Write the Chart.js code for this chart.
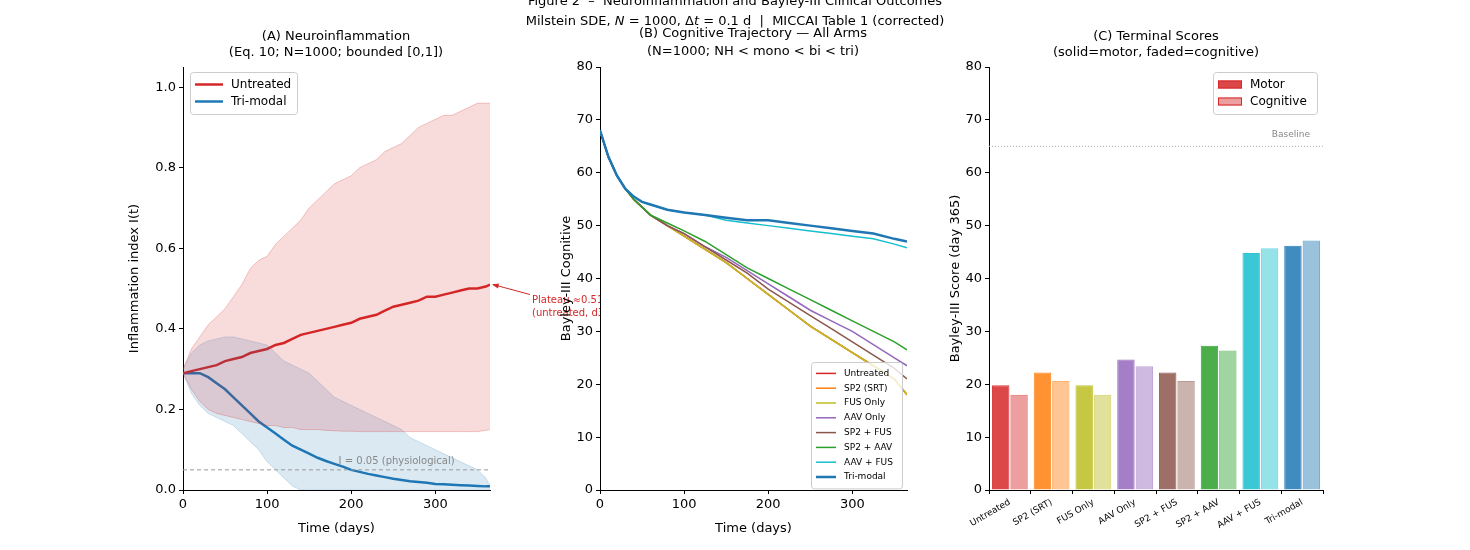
<!DOCTYPE html>
<html><head><meta charset="utf-8">
<script src="https://cdn.jsdelivr.net/npm/chart.js@4/dist/chart.umd.min.js"></script>
<style>
body{margin:0;width:1470px;height:550px;background:#fff;position:relative;overflow:hidden;font-family:"DejaVu Sans",sans-serif}
canvas{position:absolute}
#t1{position:absolute;top:-9px;left:0;width:1470px;text-align:center;font-size:13px;line-height:20px;color:#000;z-index:5}
</style></head><body>
<div id="t1">Figure 2 &nbsp;–&nbsp; Neuroinflammation and Bayley-III Clinical Outcomes<br>Milstein SDE, <i>N</i> = 1000, Δ<i>t</i> = 0.1 d &nbsp;|&nbsp; MICCAI Table 1 (corrected)</div>
<canvas id="cA" style="left:0;top:0;width:620px;height:550px"></canvas>
<canvas id="cC" style="left:900px;top:0;width:570px;height:550px"></canvas>
<canvas id="cB" style="left:520px;top:0;width:420px;height:550px"></canvas>
<script>
const days = [0,10,20,30,40,50,60,70,80,90,100,110,120,130,140,150,160,170,180,190,200,210,220,230,240,250,260,270,280,290,300,310,320,330,340,350,360,365];
const untreatedMean = [0.29,0.295,0.30,0.305,0.31,0.32,0.325,0.33,0.34,0.345,0.35,0.36,0.365,0.375,0.385,0.39,0.395,0.40,0.405,0.41,0.415,0.425,0.43,0.435,0.445,0.455,0.46,0.465,0.47,0.48,0.48,0.485,0.49,0.495,0.50,0.50,0.505,0.51];
const untreatedHi = [0.30,0.35,0.38,0.41,0.43,0.45,0.48,0.51,0.55,0.57,0.58,0.61,0.63,0.65,0.67,0.70,0.72,0.74,0.76,0.77,0.78,0.80,0.81,0.82,0.84,0.85,0.86,0.88,0.90,0.91,0.92,0.93,0.93,0.94,0.95,0.96,0.96,0.96];
const untreatedLo = [0.29,0.25,0.22,0.20,0.19,0.185,0.18,0.175,0.17,0.165,0.16,0.16,0.155,0.155,0.15,0.15,0.15,0.148,0.147,0.146,0.146,0.145,0.145,0.145,0.145,0.145,0.145,0.145,0.145,0.145,0.145,0.145,0.145,0.145,0.145,0.145,0.148,0.15];
const trimodalMean = [0.29,0.29,0.29,0.28,0.265,0.25,0.23,0.21,0.19,0.17,0.155,0.14,0.125,0.11,0.10,0.09,0.08,0.072,0.065,0.058,0.05,0.045,0.04,0.036,0.032,0.028,0.025,0.022,0.02,0.018,0.015,0.014,0.013,0.012,0.011,0.01,0.009,0.009];
const trimodalHi = [0.30,0.34,0.36,0.37,0.375,0.38,0.38,0.375,0.37,0.365,0.36,0.34,0.32,0.31,0.30,0.29,0.27,0.25,0.23,0.22,0.21,0.20,0.19,0.18,0.17,0.16,0.15,0.13,0.12,0.11,0.10,0.09,0.08,0.07,0.06,0.05,0.03,0.01];
const trimodalLo = [0.29,0.24,0.21,0.19,0.18,0.17,0.16,0.14,0.12,0.10,0.07,0.05,0.03,0.01,0.0,0.0,0.0,0.0,0.0,0.0,0.0,0.0,0.0,0.0,0.0,0.0,0.0,0.0,0.0,0.0,0.0,0.0,0.0,0.0,0.0,0.0,0.0,0.0];

const cogDays = [0,10,20,30,40,50,60,80,100,125,150,175,200,225,250,275,300,325,350,365];
const cogTrimodal = [68,63,59.5,57,55.5,54.5,54,53,52.5,52,51.5,51,51,50.5,50,49.5,49,48.5,47.5,47];
const cogAAVFUS   = [68,63,59.5,57,55.5,54.5,54,53,52.5,52,51,50.5,50,49.5,49,48.5,48,47.5,46.5,45.8];
const cogSP2AAV   = [68,63,59.5,57,55,53.5,52,50.5,49,47,44.5,42,40,38,36,34,32,30,28,26.5];
const cogAAV      = [68,63,59.5,57,55,53.5,52,50,48.5,46,44,41.5,39,36.5,34,32,30,27.5,25,23.5];
const cogSP2FUS   = [68,63,59.5,57,55,53.5,52,50,48.5,46,43.5,41,38,35.5,33,30.5,28,25.5,23,21];
const cogFUS      = [68,63,59.5,57,55,53.5,52,50,48,45.5,43,40,37,34,31,28.5,26,23.5,21,18];
const cogSP2      = cogFUS.slice();
const cogUntreated = cogFUS.slice();

const arms = ["Untreated","SP2 (SRT)","FUS Only","AAV Only","SP2 + FUS","SP2 + AAV","AAV + FUS","Tri-modal"];
const motorScores = [19.8,22.2,19.8,24.7,22.2,27.3,44.8,46.2];
const cognitiveScores = [18.0,20.6,18.0,23.4,20.6,26.4,45.7,47.2];
const baselineScore = 65;

const colors = ["#d62728","#ff7f0e","#bcbd22","#9467bd","#8c564b","#2ca02c","#17becf","#1f77b4"];
function rgba(h,a){const n=parseInt(h.slice(1),16);return `rgba(${n>>16},${(n>>8)&255},${n&255},${a})`;}
Chart.defaults.font.family="DejaVu Sans";
Chart.defaults.color="#000";
Chart.defaults.animation=false;
Chart.defaults.devicePixelRatio=1;
const axisCommon={grid:{display:true,drawOnChartArea:false,tickLength:4,color:"#000"},border:{color:"#000"},ticks:{font:{size:13},color:"#000"}};
const xy=(xs,ys)=>xs.map((x,i)=>({x,y:ys[i]}));
const fixW=w=>(s=>{s.width=w;});
const fixH=h=>(s=>{s.height=h;});
const dayTicks=s=>{s.ticks=[0,100,200,300].map(v=>({value:v}));};

function titles(lines,cx,ys){return{id:"ttl",afterDraw(c){const ctx=c.ctx;ctx.save();ctx.fillStyle="#000";ctx.font="13px DejaVu Sans";ctx.textAlign="center";ctx.textBaseline="middle";lines.forEach((t,i)=>ctx.fillText(t,cx,ys[i]));ctx.restore();}};}
function legend(items,x0,y0,w,rowH,fs,kind){return{id:"lg",afterDraw(c){const ctx=c.ctx;ctx.save();
 const h=items.length*rowH+8;ctx.fillStyle="rgba(255,255,255,0.8)";ctx.strokeStyle="#ccc";ctx.lineWidth=1;
 ctx.beginPath();ctx.roundRect(x0+0.5,y0+0.5,w,h,3);ctx.fill();ctx.stroke();
 ctx.font=fs+"px DejaVu Sans";ctx.textBaseline="middle";ctx.textAlign="left";
 items.forEach((it,i)=>{const y=y0+4+rowH*(i+0.5);
  if(kind==="line"){ctx.strokeStyle=it.c;ctx.lineWidth=it.w;ctx.beginPath();ctx.moveTo(x0+5,y);ctx.lineTo(x0+5+it.len,y);ctx.stroke();}
  else{ctx.fillStyle=it.f;ctx.strokeStyle=it.c;ctx.lineWidth=1;ctx.fillRect(x0+5,y-4,24,8);ctx.strokeRect(x0+5.5,y-3.5,23,7);}
  ctx.fillStyle="#000";ctx.fillText(it.t,x0+(kind==="line"?it.len+13:37),y);});
 ctx.restore();}};}

function annotA(){return{id:"annA",afterDatasetsDraw(c){
 const x=c.scales.x,y=c.scales.y,ctx=c.ctx;ctx.save();
 ctx.strokeStyle="#999";ctx.setLineDash([4,3]);ctx.lineWidth=1;
 ctx.beginPath();ctx.moveTo(c.chartArea.left,y.getPixelForValue(0.05));ctx.lineTo(c.chartArea.right,y.getPixelForValue(0.05));ctx.stroke();
 ctx.setLineDash([]);ctx.fillStyle="#888";ctx.font="10px DejaVu Sans";ctx.textAlign="left";
 ctx.fillText("I = 0.05 (physiological)",x.getPixelForValue(185),y.getPixelForValue(0.065));
 const ax=x.getPixelForValue(365),ay=y.getPixelForValue(0.51);
 ctx.strokeStyle="#d62728";ctx.fillStyle="#d62728";ctx.lineWidth=1;
 ctx.beginPath();ctx.moveTo(ax+40,ay+10);ctx.lineTo(ax+3,ay);ctx.stroke();
 ctx.beginPath();ctx.moveTo(ax+2,ay);ctx.lineTo(ax+9,ay-1);ctx.lineTo(ax+8,ay+4);ctx.fill();
 ctx.font="10px DejaVu Sans";ctx.fillText("Plateau ≈0.51",ax+42,ay+18);ctx.fillText("(untreated, d365)",ax+42,ay+31);
 ctx.restore();}};}
new Chart(document.getElementById("cA"),{type:"line",data:{datasets:[
 {label:"uhi",data:xy(days,untreatedHi),borderColor:rgba("#d62728",0.25),borderWidth:1,backgroundColor:rgba("#d62728",0.16),fill:"+1",pointRadius:0},
 {label:"ulo",data:xy(days,untreatedLo),borderColor:rgba("#d62728",0.25),borderWidth:1,pointRadius:0,fill:false},
 {label:"thi",data:xy(days,trimodalHi),borderColor:rgba("#1f77b4",0.2),borderWidth:1,backgroundColor:rgba("#1f77b4",0.16),fill:"+1",pointRadius:0},
 {label:"tlo",data:xy(days,trimodalLo),borderColor:rgba("#1f77b4",0.2),borderWidth:1,pointRadius:0,fill:false},
 {label:"Untreated",data:xy(days,untreatedMean),borderColor:"#d62728",borderWidth:2.5,pointRadius:0},
 {label:"Tri-modal",data:xy(days,trimodalMean),borderColor:"#1f77b4",borderWidth:2.5,pointRadius:0}]},
 options:{responsive:false,layout:{padding:{left:123,right:130,top:67,bottom:10}},
 plugins:{legend:{display:false},tooltip:{enabled:false}},
 scales:{x:{...axisCommon,type:"linear",min:0,max:365,afterBuildTicks:dayTicks,afterFit:fixH(50),title:{display:true,text:"Time (days)",font:{size:13}}},
  y:{...axisCommon,min:0,max:1.05,afterFit:fixW(60),afterBuildTicks:s=>{s.ticks=[0,0.2,0.4,0.6,0.8,1.0].map(v=>({value:v}));},ticks:{...axisCommon.ticks,callback:v=>v.toFixed(1)},title:{display:true,text:"Inflammation index I(t)",font:{size:13}}}}},
 plugins:[annotA(),titles(["(A) Neuroinflammation","(Eq. 10; N=1000; bounded [0,1])"],336,[37,53]),
  legend([{t:"Untreated",c:"#d62728",w:2.5,len:28},{t:"Tri-modal",c:"#1f77b4",w:2.5,len:28}],190,72,107,17,12,"line")]});

const whiteBg={id:"wbg",beforeDraw(c){const a=c.chartArea,ctx=c.ctx;ctx.save();ctx.fillStyle="#fff";ctx.fillRect(a.left,a.top,a.right-a.left,a.bottom-a.top);ctx.restore();}};
const cogSeries=[cogUntreated,cogSP2,cogFUS,cogAAV,cogSP2FUS,cogSP2AAV,cogAAVFUS,cogTrimodal];
new Chart(document.getElementById("cB"),{type:"line",data:{datasets:arms.map((a,i)=>({label:a,data:xy(cogDays,cogSeries[i]),borderColor:colors[i],borderWidth:i===7?2.5:1.5,pointRadius:0,order:i===7?0:8-i}))},
 options:{responsive:false,layout:{padding:{left:35,right:33,top:67,bottom:10}},
 plugins:{legend:{display:false},tooltip:{enabled:false}},
 scales:{x:{...axisCommon,type:"linear",min:0,max:365,afterBuildTicks:dayTicks,afterFit:fixH(50),title:{display:true,text:"Time (days)",font:{size:13}}},
  y:{...axisCommon,min:0,max:80,afterFit:fixW(45),ticks:{...axisCommon.ticks,stepSize:10},title:{display:true,text:"Bayley-III Cognitive",font:{size:13}}}}},
 plugins:[whiteBg,titles(["(B) Cognitive Trajectory — All Arms","(N=1000; NH < mono < bi < tri)"],233,[34,52]),
  legend(arms.map((a,i)=>({t:a,c:colors[i],w:i===7?2.5:1.5,len:20})),291,362,91,14.8,9,"line")]});

const baseLine={id:"bl",afterDatasetsDraw(c){const y=c.scales.y.getPixelForValue(baselineScore),a=c.chartArea,ctx=c.ctx;ctx.save();
 ctx.strokeStyle="#aaa";ctx.setLineDash([1,2]);ctx.beginPath();ctx.moveTo(a.left,y);ctx.lineTo(a.right,y);ctx.stroke();
 ctx.fillStyle="#888";ctx.font="9px DejaVu Sans";ctx.textAlign="right";ctx.fillText("Baseline",a.right-13,y-9);ctx.restore();}};
new Chart(document.getElementById("cC"),{type:"bar",data:{labels:arms,datasets:[
 {label:"Motor",data:motorScores,backgroundColor:colors.map(c=>rgba(c,0.85)),borderColor:colors.map(c=>rgba(c,0.9)),borderWidth:1,categoryPercentage:0.88,barPercentage:0.95},
 {label:"Cognitive",data:cognitiveScores,backgroundColor:colors.map(c=>rgba(c,0.45)),borderColor:colors.map(c=>rgba(c,0.6)),borderWidth:1,categoryPercentage:0.88,barPercentage:0.95}]},
 options:{responsive:false,layout:{padding:{left:44,right:147,top:67,bottom:10}},
 plugins:{legend:{display:false},tooltip:{enabled:false}},
 scales:{x:{...axisCommon,afterFit:fixH(50),ticks:{font:{size:9},color:"#000",maxRotation:30,minRotation:30}},
  y:{...axisCommon,min:0,max:80,afterFit:fixW(45),ticks:{...axisCommon.ticks,stepSize:10},title:{display:true,text:"Bayley-III Score (day 365)",font:{size:13}}}}},
 plugins:[baseLine,titles(["(C) Terminal Scores","(solid=motor, faded=cognitive)"],256,[37,53]),
  legend([{t:"Motor",f:rgba("#d62728",0.85),c:"#d62728"},{t:"Cognitive",f:rgba("#d62728",0.45),c:"#d62728"}],313,72,104,17,12,"box")]});
</script></body></html>
